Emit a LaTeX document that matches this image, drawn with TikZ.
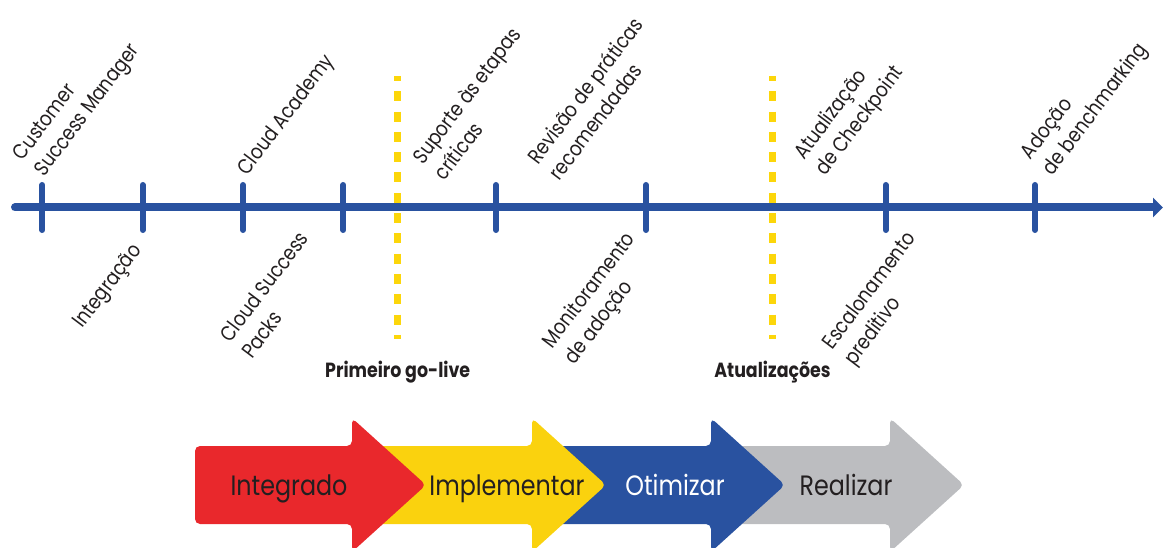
\documentclass[tikz,border=0pt]{standalone}
\usepackage{fontspec}
\setmainfont{Poppins}[FakeStretch=0.85]
\usetikzlibrary{arrows.meta}
\definecolor{tlblue}{RGB}{41,82,160}
\definecolor{chred}{RGB}{233,40,44}
\definecolor{chyellow}{RGB}{250,210,14}
\definecolor{chblue}{RGB}{41,82,160}
\definecolor{chgrey}{RGB}{188,189,192}
\definecolor{dashyellow}{RGB}{252,214,10}
\definecolor{ink}{RGB}{35,31,32}

\begin{document}
\begin{tikzpicture}[
		x=1pt, y=-1pt,
		ms/.style={rotate=53, inner sep=0pt, align=left, text=ink, font=\fontsize{21}{27}\selectfont},
		msup/.style={ms, anchor=south west},
		msdown/.style={ms, anchor=north east},
		gate/.style={anchor=base, inner sep=0pt, text=ink, font=\fontsize{20.5}{24}\selectfont\bfseries},
		phase/.style={anchor=base, inner sep=0pt, text=ink, font=\fontsize{28}{32}\selectfont},
		timeline/.style={draw=tlblue, line width=8pt, line cap=round, -{Triangle[length=10pt,width=19pt]}},
		tick/.style={draw=tlblue, line width=6pt, line cap=round},
		gateline/.style={draw=dashyellow, line width=6.5pt, dash pattern=on 10pt off 10.3pt, dash phase=5pt},
	]
		\useasboundingbox (0,0) rectangle (1164,548);
		\clip (0,0) rectangle (1164,548);

		\foreach \hx/\bx/\col in {890/711/chgrey, 711/532/chblue, 532/352/chyellow, 352/195/chred}
			\fill[\col, rounded corners=5pt] (\bx,446) -- (\hx,446) -- (\hx,418) -- (\hx+74,485) -- (\hx,552) -- (\hx,524) -- (\bx,524) -- cycle;

		\node (integ) [phase] at (289,495) {Integrado};
		\node (impl) [phase] at (507,495) {Implementar};
		\node (otim) [phase, text=white] at (675,495) {Otimizar};
		\node (real) [phase] at (846,495) {Realizar};

		\foreach \x in {397.7,772.5}
			\draw[gateline] (\x,76) -- (\x,339);

		\coordinate (tlstart) at (15,207.5);
		\coordinate (tlend) at (1163,207.5);
		\draw[timeline] (tlstart) -- (tlend);
		\foreach \x in {42.3,142.7,243,343.3,496,646,885.7,1035}
			\draw[tick] (\x,185) -- (\x,230);

		\node (golive) [gate] at (397.7,377) {Primeiro go-live};
		\node (updates) [gate] at (772.5,377) {Atualizações};

		\node (csm) [msup] at (49,181) {Customer\\Success Manager};
		\node (acad) [msup] at (252,180) {Cloud Academy};
		\node (supp) [msup] at (445,182) {Suporte às etapas\\críticas};
		\node (rev) [msup] at (560,182) {Revisão de práticas\\recomendadas};
		\node (chk) [msup] at (830,180) {Atualização\\de Checkpoint};
		\node (bench) [msup] at (1057,180) {Adoção\\de benchmarking};

		\node (onb) [msdown] at (130,241) {Integração};
		\node (packs) [msdown] at (297,229) {Cloud Success\\Packs};
		\node (mon) [msdown] at (623,229) {Monitoramento\\de adoção};
		\node (esc) [msdown] at (904,229) {Escalonamento\\preditivo};
	\end{tikzpicture}
\end{document}
